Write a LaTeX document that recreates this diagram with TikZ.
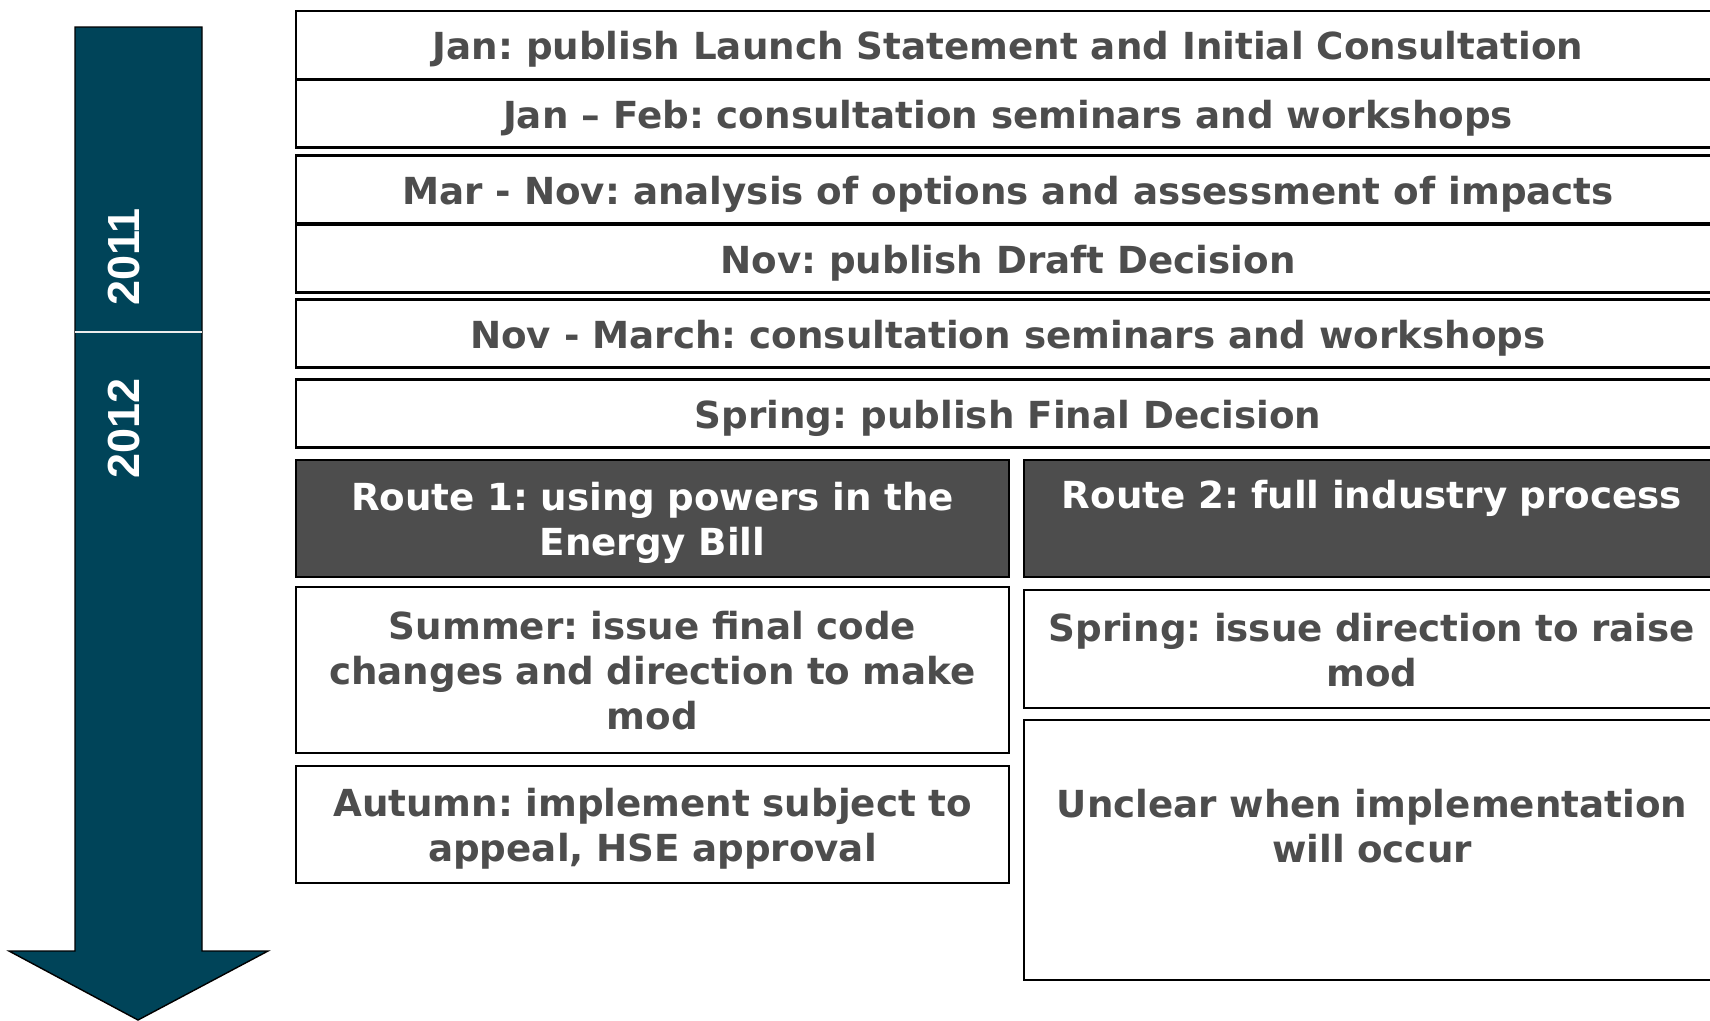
\documentclass[tikz,border=0pt]{standalone}
\usepackage{fontspec}
\setmainfont{DejaVu Sans}
\newfontfamily\yearfont{Liberation Sans}
\definecolor{timeteal}{RGB}{0,68,89}
\definecolor{slate}{RGB}{77,77,77}
\frenchspacing

\begin{document}
\begin{tikzpicture}[x=0.1mm, y=-0.1mm,
    every node/.style={font=\fontsize{10.6}{12.8}\selectfont\bfseries, text=slate},
    box/.style={draw=black, line width=0.6pt, fill=white, align=center, inner sep=0pt,
        execute at begin node={\rule{0pt}{3.8mm}},
        execute at end node={\rule[-0.9mm]{0pt}{0.9mm}}},
    wide/.style={box, minimum width=142.4mm, minimum height=6.8mm},
    routeone/.style={box, minimum width=71.3mm, text width=68mm},
    routetwo/.style={box, minimum width=69.6mm, text width=67mm},
    head/.style={fill=slate, text=white},
    year/.style={font=\yearfont\fontsize{12.8}{14}\selectfont\bfseries, text=white, rotate=90}]
    \useasboundingbox (0,0) rectangle (1710,1020);
    \clip (0,0) rectangle (1710,1020);

    % time arrow
    \draw[fill=timeteal, draw=black, line width=0.4pt]
        (75,27) -- (202,27) -- (202,951) -- (268,951)
        -- (138,1020) -- (9,951) -- (75,951) -- cycle;
    \draw[white!85!gray, line width=0.6pt] (75,332) -- (202,332);
    \node[year] (y2011) at (124,257) {2011};
    \node[year] (y2012) at (124,428) {2012};

    % common steps
    \node[wide] (launch) at (1008,45) {Jan: publish Launch Statement and Initial Consultation};
    \node[wide] (seminars) at (1008,113.5) {Jan – Feb: consultation seminars and workshops};
    \node[wide] (analysis) at (1008,189.5) {Mar - Nov: analysis of options and assessment of impacts};
    \node[wide] (draft) at (1008,258.5) {Nov: publish Draft Decision};
    \node[wide] (workshops) at (1008,333.5) {Nov - March: consultation seminars and workshops};
    \node[wide] (final) at (1008,413.5) {Spring: publish Final Decision};

    % route 1
    \node[routeone, head, minimum height=11.7mm] (r1) at (652.5,518.5) {Route 1: using powers in the\\Energy Bill};
    \node[routeone, minimum height=16.6mm] (summer) at (652.5,670) {Summer: issue final code\\changes and direction to make\\mod};
    \node[routeone, minimum height=11.7mm] (autumn) at (652.5,824.5) {Autumn: implement subject to\\appeal, HSE approval};

    % route 2
    \node[routetwo, head, minimum height=11.7mm] (r2) at (1372,518.5) {Route 2: full industry process\\\strut};
    \node[routetwo, minimum height=11.8mm] (spring) at (1372,649) {Spring: issue direction to raise\\mod};
    \node[routetwo, minimum height=26mm] (unclear) at (1372,850) {Unclear when implementation\\will occur\\\strut};
\end{tikzpicture}
\end{document}
